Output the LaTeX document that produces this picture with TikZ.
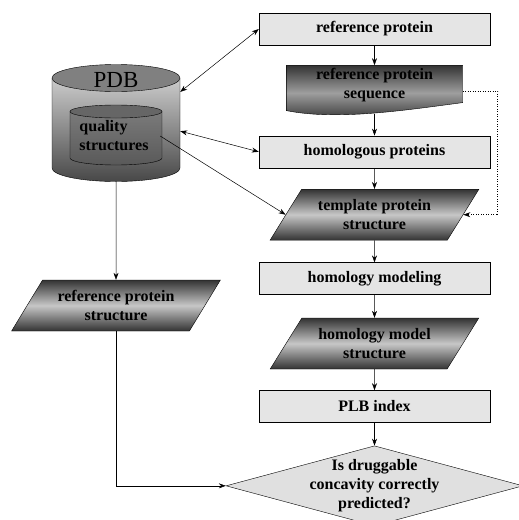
\documentclass[tikz,border=0pt]{standalone}
\usepackage{fontspec}
\setmainfont{Liberation Serif}
\usetikzlibrary{positioning}
\usetikzlibrary{shapes,arrows.meta,backgrounds}
\newcommand{\flowfont}{\fontsize{16}{19}\selectfont\bfseries}

\begin{document}
\begin{tikzpicture}[x=1pt,y=1pt,
                    processbox/.style={rectangle,
                                        inner sep=0pt,
                                        draw=black, fill=black!10,
                                        minimum width=231pt,
                                        minimum height=32pt,
                                        font=\flowfont
                                      },
                    iobox/.style={trapezium,
                                  trapezium left angle=51, trapezium right angle=129,
                                  trapezium stretches=true,
                                  inner sep=0pt, align=center,
                                  draw=black,
                                  top color=black!80, bottom color=black!80, middle color=black!22,
                                  minimum width=209pt, minimum height=51pt,
                                  font=\flowfont
                                 },
                    docbox/.style={rectangle,
                                   inner sep=0pt, align=center,
                                   minimum width=176pt, minimum height=40pt,
                                   font=\flowfont
                                  },
                    decisionbox/.style={diamond, aspect=3.7,
                                        inner sep=-3pt, align=center,
                                        draw=black, fill=black!12,
                                        minimum width=297pt, minimum height=80pt,
                                        font=\flowfont
                                       },
                    flowconnection/.style={
                                    line width=0.5pt,
                                    ->,
                                    >={Stealth[length=7pt,width=5pt]}
                                    }
                     ]
  \useasboundingbox (0,0) rectangle (519,-520);
  \clip (0,0) rectangle (519,-520);

  \shade[top color=black!20, bottom color=black!72, draw=black] (52,-78) -- (52,-168)
      arc[start angle=180, end angle=360, x radius=64, y radius=13.5] -- (180,-78) -- cycle;
  \draw[fill=black!50] (116,-78) ellipse [x radius=64, y radius=13.5];
  \shade[top color=black!52, bottom color=black!65, draw=black] (70,-111.5) -- (70,-158)
      arc[start angle=180, end angle=360, x radius=46, y radius=7] -- (162,-111.5) -- cycle;
  \draw[fill=black!60] (116,-111.5) ellipse [x radius=46, y radius=6.5];

  \node[minimum width=128pt, minimum height=116.5pt] (pdb) at (116,-123.25) { };
  \node[font=\fontsize{23}{23}\selectfont] (pdbtitle) at (116,-80) {PDB};
  \node[minimum width=92pt, minimum height=47pt, align=left, font=\flowfont] (quality) at (114,-136) {quality\\structures};

  \node[processbox] (ref) at (374.5,-29) {reference protein};
  \node[docbox,below= 20pt of ref] (seq) {reference protein\\sequence};
  \node[processbox,below= 30pt of seq] (hom) {homologous proteins};
  \node[iobox,below= 21pt of hom] (tmpl) {template protein\\structure};
  \node[processbox,below= 22pt of tmpl] (hm) {homology modeling};
  \node[iobox,below= 23pt of hm] (model) {homology model\\structure};
  \node[processbox,below= 21pt of model] (plb) {PLB index};
  \node[decisionbox,below= 23pt of plb] (dec) {Is druggable\\concavity correctly\\predicted?};
  \node[iobox] (refstruct) at (116,-305.5) {reference protein\\structure};

  \begin{scope}[on background layer]
    \shade[top color=black!80, bottom color=black!80, middle color=black!38, draw=black]
      (seq.north west) -- (seq.north east) -- ([yshift=3pt]seq.south east)
      .. controls +(-60,-8) and +(50,-10) .. ([yshift=-5pt]seq.south west) -- cycle;
  \end{scope}

  \draw [flowconnection] (ref) -- (seq);
  \draw [flowconnection] ([yshift=-8pt]seq.south) -- (hom);
  \draw [flowconnection] (hom) -- (tmpl);
  \draw [flowconnection] (tmpl) -- (hm);
  \draw [flowconnection] (hm) -- (model);
  \draw [flowconnection] (model) -- (plb);
  \draw [flowconnection] (plb) -- (dec);
  \draw [flowconnection,<->] (pdb.26) -- (ref.west);
  \draw [flowconnection,<->] (pdb.-7) -- (hom.west);
  \draw [flowconnection] (quality.east) -- (tmpl.west);
  \draw [flowconnection] (pdb) -- (refstruct);
  \draw [flowconnection] (refstruct) |- (dec);
  \draw [flowconnection,dotted] ([yshift=-6pt]seq.east) -- ++(35,0) |- (tmpl.east);

\end{tikzpicture}
\end{document}
